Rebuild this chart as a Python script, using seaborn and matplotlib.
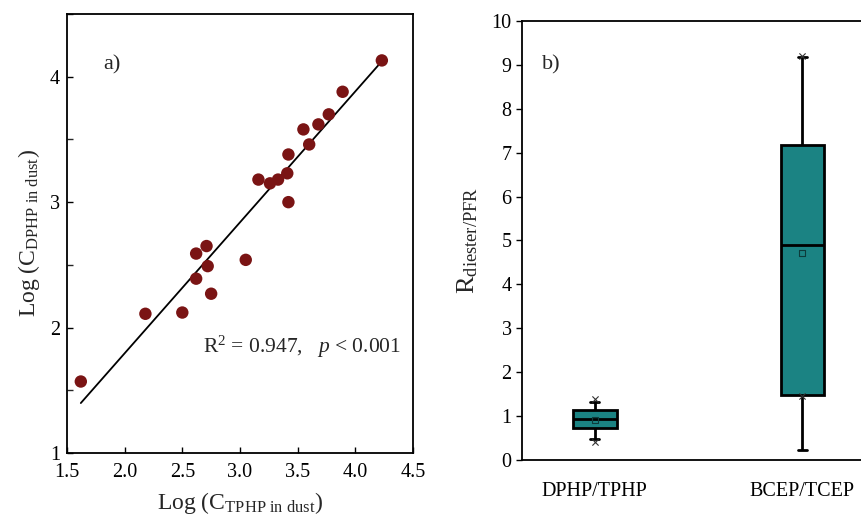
import numpy as np
import pandas as pd
import seaborn as sns
import matplotlib
matplotlib.use('Agg')
import matplotlib.pyplot as plt

# panel a) log concentrations in dust
log_tphp = [1.62, 2.18, 2.50, 2.62, 2.75, 2.72, 2.62, 2.71, 3.05, 3.16, 3.26,
            3.33, 3.41, 3.42, 3.42, 3.55, 3.60, 3.68, 3.77, 3.89, 4.23]
log_dphp = [1.57, 2.11, 2.12, 2.39, 2.27, 2.49, 2.59, 2.65, 2.54, 3.18, 3.15,
            3.18, 3.23, 3.00, 3.38, 3.58, 3.46, 3.62, 3.70, 3.88, 4.13]

# panel b) box summaries (lower whisker, Q1, median, Q3, upper whisker)
pairs = ['DPHP/TPHP', 'BCEP/TCEP']
dphp_tphp = [0.47, 0.74, 0.94, 1.14, 1.33]
bcep_tcep = [0.22, 1.48, 4.90, 7.17, 9.17]
means = [0.92, 4.72]
pct_low = [0.42, 1.45]
pct_high = [1.40, 9.20]

sns.set_theme(style='ticks')
plt.rcParams['font.family'] = ['Liberation Serif', 'DejaVu Serif']
plt.rcParams['mathtext.fontset'] = 'custom'
plt.rcParams['mathtext.rm'] = 'Liberation Serif'
plt.rcParams['mathtext.it'] = 'Liberation Serif:italic'

fig = plt.figure(figsize=(8.62, 5.21), dpi=100)
ax1 = fig.add_axes([0.0777, 0.1305, 0.4014, 0.8426])
ax2 = fig.add_axes([0.6056, 0.1171, 0.4095, 0.8426])

# scatter + linear fit
sns.regplot(x=log_tphp, y=log_dphp, ax=ax1, ci=None, scatter=False,
            line_kws={'color': 'black', 'lw': 1.3})
sns.scatterplot(x=log_tphp, y=log_dphp, ax=ax1, s=80, color='#7a1414',
                edgecolor='none', zorder=3)
ax1.set_xlim(1.5, 4.5)
ax1.set_ylim(1, 4.5)
ax1.set_xticks(np.arange(1.5, 4.51, 0.5))
ax1.set_yticks([1, 2, 3, 4])
ax1.set_yticks(np.arange(1.5, 4.51, 1.0), minor=True)
ax1.tick_params(direction='in', length=4, width=1, labelsize=14.5, colors='black')
ax1.tick_params(axis='y', pad=5)
ax1.tick_params(axis='x', pad=7)
ax1.tick_params(which='minor', direction='in', length=4, width=1)
ax1.set_xlabel(r'Log (C$_{\mathrm{TPHP\ in\ dust}}$)', fontsize=17, labelpad=6)
ax1.set_ylabel(r'Log (C$_{\mathrm{DPHP\ in\ dust}}$)', fontsize=17, labelpad=6)
ax1.text(0.104, 0.884, 'a)', transform=ax1.transAxes, fontsize=16, va='center')
ax1.text(0.393, 0.241, r'R$^2$ = 0.947,   $p$ < 0.001', transform=ax1.transAxes,
         fontsize=15.5, va='center')
for sp in ax1.spines.values():
    sp.set_linewidth(1.3)
    sp.set_color('black')

# box plot from the summary values
df = pd.DataFrame({'pair': [pairs[0]] * 5 + [pairs[1]] * 5,
                   'ratio': dphp_tphp + bcep_tcep})
sns.boxplot(data=df, x='pair', y='ratio', ax=ax2, whis=(0, 100), width=0.21,
            color='#1b8383', linecolor='black', linewidth=2, fliersize=0,
            saturation=1, capwidths=0.045)
ax2.scatter(range(len(pairs)), means, marker='s', s=18, facecolor='none',
            edgecolor='#0d3b3b', linewidth=0.8, zorder=5)
ax2.scatter(range(len(pairs)), pct_low, marker='x', s=20, color='#333333',
            linewidth=0.8, zorder=5)
ax2.scatter(range(len(pairs)), pct_high, marker='x', s=20, color='#333333',
            linewidth=0.8, zorder=5)
ax2.set_xlim(-0.35, 1.35)
ax2.set_ylim(0, 10)
ax2.set_yticks(range(0, 11))
ax2.tick_params(axis='y', direction='out', length=4, width=1, labelsize=14.5,
                colors='black')
ax2.tick_params(axis='x', length=0, labelsize=14.5, pad=16, colors='black')
ax2.set_xlabel('')
ax2.set_ylabel(r'R$_{\mathrm{diester/PFR}}$', fontsize=19, labelpad=8)
ax2.text(0.057, 0.9, 'b)', transform=ax2.transAxes, fontsize=16, va='center')
for sp in ax2.spines.values():
    sp.set_linewidth(1.3)
    sp.set_color('black')

fig.savefig('out.png', dpi=100)
